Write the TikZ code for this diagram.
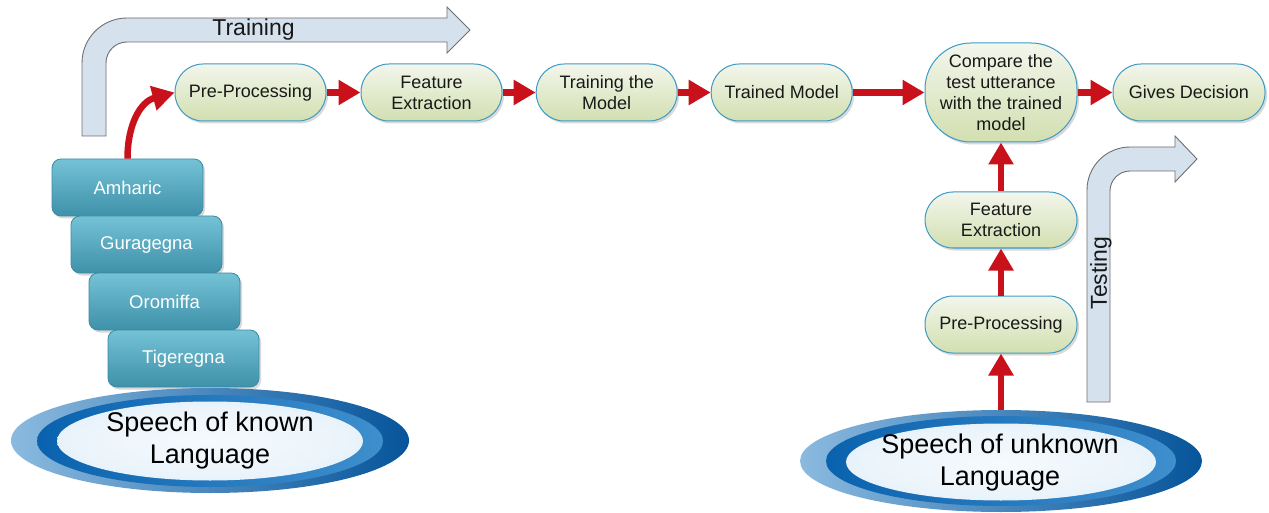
\documentclass[tikz,border=0pt]{standalone}
\usepackage{fontspec}
\setmainfont{Liberation Sans}
\usetikzlibrary{arrows.meta,shapes.geometric,shadows}
\definecolor{redarr}{HTML}{C8111A}
\definecolor{nodeborder}{HTML}{3B9BC6}
\definecolor{nodetop}{HTML}{F3F6EC}
\definecolor{nodebot}{HTML}{D2DFB0}
\definecolor{langtop}{HTML}{74C2D6}
\definecolor{langbot}{HTML}{3E91A9}
\definecolor{langborder}{HTML}{3A8CA5}
\definecolor{bentfill}{HTML}{D6E1EE}
\definecolor{bentdraw}{HTML}{6F6F6F}
\definecolor{ellOutL}{HTML}{8BBADF}
\definecolor{ellOutR}{HTML}{06549A}
\definecolor{ellMidL}{HTML}{0A62AE}
\definecolor{ellMidR}{HTML}{3F8FCD}
\definecolor{ellInC}{HTML}{F5FAFD}
\definecolor{ellInA}{HTML}{EBF4FB}
\definecolor{ellInM}{HTML}{D3E7F6}
\definecolor{ellIn}{HTML}{A6CDEB}
\pgfdeclareradialshading{ellshade}{\pgfpoint{0bp}{0bp}}{color(0bp)=(ellInC); color(22bp)=(ellInA); color(38bp)=(ellInM); color(50bp)=(ellIn)}
\begin{document}
\begin{tikzpicture}[x=1pt,y=1pt,
  proc/.style={draw=nodeborder, line width=1pt, top color=nodetop, bottom color=nodebot,
    rounded corners=28pt, minimum width=141pt, minimum height=57pt, align=center,
    font=\fontsize{18}{21}\selectfont, text=black!90, inner sep=0pt,
    drop shadow={shadow xshift=2pt, shadow yshift=-2.5pt, opacity=0.3}},
  lang/.style={draw=langborder, line width=0.8pt, top color=langtop, bottom color=langbot,
    rounded corners=9pt, minimum width=151pt, minimum height=57pt, text=white,
    font=\fontsize{18.5}{21}\selectfont, inner sep=0pt,
    drop shadow={shadow xshift=2pt, shadow yshift=-2.5pt, opacity=0.3}},
  flow/.style={draw=redarr, line width=6.5pt, -{Triangle[length=22pt,width=24pt]}},
  bent/.style={draw=bentdraw, fill=bentfill, line width=0.9pt, line join=miter},
  ellout/.style={ellipse, inner sep=0pt, left color=ellOutL, right color=ellOutR},
  ellmid/.style={ellipse, inner sep=0pt, left color=ellMidL, right color=ellMidR},
  ellin/.style={ellipse, inner sep=0pt, shading=ellshade},
  bigtext/.style={align=center, font=\fontsize{27}{32}\selectfont, text=black},
  arrowlabel/.style={font=\fontsize{23}{26}\selectfont, text=black!90}
]
\useasboundingbox (0,0) rectangle (1269,-513);

% ---- bent arrows ----
\path[bent] (82,-136) -- (82,-63) .. controls (82,-38.1) and (102.1,-18) .. (127,-18)
  -- (447,-18) -- (447,-7) -- (470,-30) -- (447,-53) -- (447,-42) -- (127,-42)
  .. controls (115.4,-42) and (106,-51.4) .. (106,-63) -- (106,-136) -- cycle;
\node[arrowlabel] (trainlbl) at (253.5,-29.5) {Training};

\path[bent] (1087,-402) -- (1087,-190) .. controls (1087,-166.3) and (1106.3,-147) .. (1130,-147)
  -- (1175,-147) -- (1175,-136) -- (1197,-159) -- (1175,-182) -- (1175,-171) -- (1130,-171)
  .. controls (1119,-171) and (1110,-180) .. (1110,-191) -- (1110,-402) -- cycle;
\node[arrowlabel, rotate=90] (testlbl) at (1101,-273) {Testing};

% ---- top row ----
\node[proc, minimum width=151pt] (pre1) at (250.5,-92.5) {Pre-Processing};
\node[proc] (fe1) at (431.5,-92.5) {Feature\\Extraction};
\node[proc] (tm) at (606.7,-92.5) {Training the\\Model};
\node[proc] (trm) at (781.7,-92.5) {Trained Model};
\node[proc, minimum width=152pt, minimum height=99pt, rounded corners=46pt] (cmp) at (1001,-92.5)
  {Compare the\\test utterance\\with the trained\\model};
\node[proc, minimum width=152pt] (gd) at (1189,-92.5) {Gives Decision};

% ---- right column ----
\node[proc, minimum width=152pt, minimum height=56pt] (fe2) at (1001,-220) {Feature\\Extraction};
\node[proc, minimum width=152pt] (pp2) at (1001,-324.5) {Pre-Processing};

% ---- language stack ----
\node[lang] (am) at (127.5,-187.5) {Amharic};
\node[lang] (gu) at (146.5,-244.5) {Guragegna};
\node[lang] (om) at (164.5,-301.5) {Oromiffa};
\node[lang] (ti) at (183.5,-358.5) {Tigeregna};

% ---- ellipses ----
\node[ellout, minimum width=398pt, minimum height=105pt] (k1) at (210,-440.5) {};
\node[ellmid, minimum width=346pt, minimum height=92pt] (k2) at (210,-441) {};
\node[ellin, minimum width=306pt, minimum height=79pt] (k4) at (210,-441) {};
\node[bigtext] (ktext) at (210,-441) {Speech of known\\Language};

\node[ellout, minimum width=402pt, minimum height=102pt] (u1) at (1001,-461) {};
\node[ellmid, minimum width=350pt, minimum height=90pt] (u2) at (1001,-461) {};
\node[ellin, minimum width=310pt, minimum height=77pt] (u4) at (1001,-462) {};
\node[bigtext] (utext) at (1000,-463) {Speech of unknown\\Language};

% ---- red flow arrows ----
\draw[flow] (am.north) to[out=90, in=195, looseness=1.1] (pre1.west);
\draw[flow] (pre1.east) -- (fe1.west);
\draw[flow] (fe1.east) -- (tm.west);
\draw[flow] (tm.east) -- (trm.west);
\draw[flow] (trm.east) -- (cmp.west);
\draw[flow] (cmp.east) -- (gd.west);
\draw[flow] (u1.north) -- (pp2.south);
\draw[flow] (pp2.north) -- (fe2.south);
\draw[flow] (fe2.north) -- (cmp.south);
\end{tikzpicture}
\end{document}
